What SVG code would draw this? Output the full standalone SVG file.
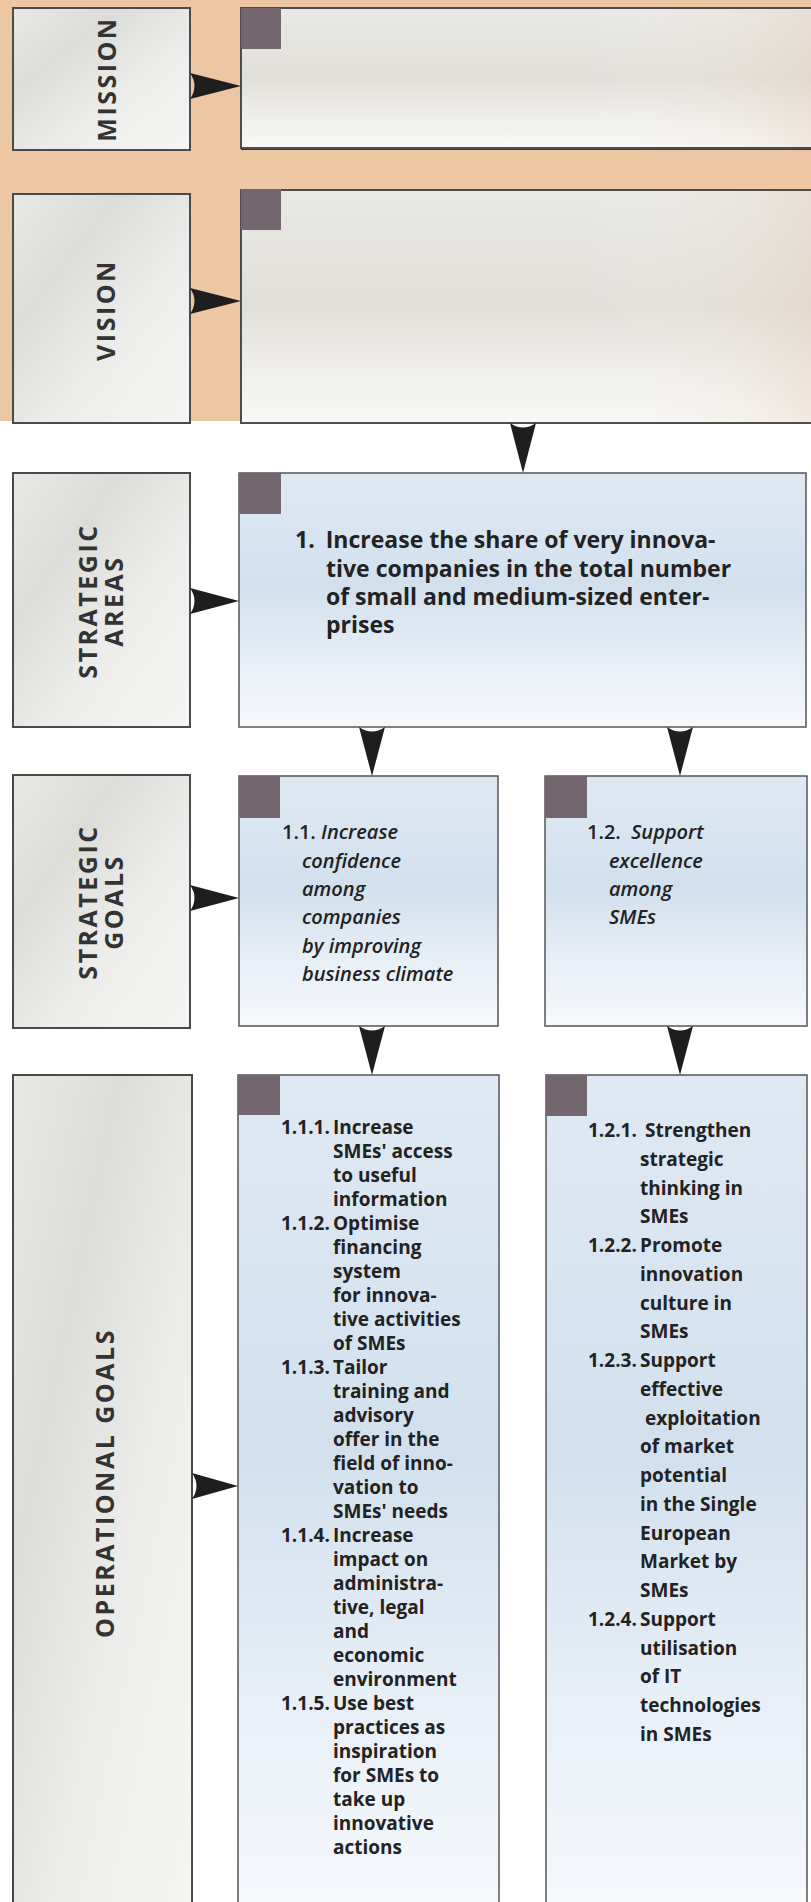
<svg xmlns="http://www.w3.org/2000/svg" width="811" height="1902" viewBox="0 0 811 1902">
<defs>
<linearGradient id="gLbl" x1="0" y1="0" x2="1" y2="1">
<stop offset="0" stop-color="#e8e8e5"/>
<stop offset="0.3" stop-color="#dcdcd9"/>
<stop offset="0.6" stop-color="#ececea"/>
<stop offset="1" stop-color="#f5f5f3"/>
</linearGradient>
<linearGradient id="gGray" x1="0" y1="0" x2="0" y2="1">
<stop offset="0" stop-color="#e9e9e5"/>
<stop offset="0.5" stop-color="#e1dfd9"/>
<stop offset="0.78" stop-color="#efeeeb"/>
<stop offset="1" stop-color="#f8f8f6"/>
</linearGradient>
<linearGradient id="gTint" x1="0" y1="0" x2="1" y2="0">
<stop offset="0" stop-color="#ffffff" stop-opacity="0"/>
<stop offset="0.6" stop-color="#ffffff" stop-opacity="0"/>
<stop offset="1" stop-color="#e6cdb8" stop-opacity="0.35"/>
</linearGradient>
<linearGradient id="gBlue" x1="0" y1="0" x2="0" y2="1">
<stop offset="0" stop-color="#dfe9f4"/>
<stop offset="0.45" stop-color="#d2e0ee"/>
<stop offset="0.75" stop-color="#e8eff7"/>
<stop offset="1" stop-color="#f6f9fc"/>
</linearGradient>
<style>
.lbl{fill:url(#gLbl);stroke:#4a4a4a;stroke-width:2}
.gray{fill:url(#gGray);stroke:#4d4d4d;stroke-width:2}
.tint{fill:url(#gTint)}
.blue{fill:url(#gBlue);stroke:#555;stroke-width:1.5}
.sq{fill:#74666f}
.lt{font-family:"Open Sans","Liberation Sans",sans-serif;font-weight:700;font-size:25px;letter-spacing:2.5px;fill:#333;text-anchor:middle}
.big{font-family:"Open Sans","Liberation Sans",sans-serif;font-weight:700;font-size:23px;fill:#222}
.it{font-family:"Open Sans","Liberation Sans",sans-serif;font-weight:600;font-size:20px;fill:#222}
.op{font-family:"Open Sans","Liberation Sans",sans-serif;font-weight:700;font-size:19px;fill:#222}
.arr{fill:#1e1e1e}
</style>
</defs>
<rect x="0" y="0" width="811" height="421" fill="#edc6a3"/>

<g id="mission-label">
<rect class="lbl" x="13" y="8" width="177" height="142"/>
<text class="lt" transform="translate(116,79) rotate(-90)">MISSION</text>
</g>
<g id="mission">
<rect class="gray" x="241" y="8" width="580" height="140"/>
<rect class="tint" x="242" y="9" width="569" height="138"/>
<line x1="241" y1="149.5" x2="811" y2="149.5" stroke="#6e2418" stroke-width="1.2"/>
<rect class="sq" x="241" y="8" width="40" height="41"/>
</g>

<g id="vision-label">
<rect class="lbl" x="13" y="194" width="177" height="229"/>
<text class="lt" transform="translate(115,310) rotate(-90)">VISION</text>
</g>
<g id="vision">
<rect class="gray" x="241" y="190" width="580" height="233"/>
<rect class="tint" x="242" y="191" width="569" height="231"/>
<rect class="sq" x="241" y="189" width="40" height="41"/>
</g>

<g id="areas-label">
<rect class="lbl" x="13" y="473" width="177" height="254"/>
<text class="lt" transform="translate(97,601) rotate(-90)">STRATEGIC</text>
<text class="lt" transform="translate(123,601) rotate(-90)">AREAS</text>
</g>
<g id="area-1">
<rect class="blue" x="239" y="473" width="567" height="254"/>
<rect class="sq" x="239" y="473" width="42" height="41"/>
<text class="big"><tspan x="295" y="548">1.</tspan><tspan dx="11">Increase the share of very innova-</tspan><tspan x="326" y="576.5">tive companies in the total number</tspan><tspan x="326" y="605">of small and medium-sized enter-</tspan><tspan x="326" y="633">prises</tspan></text>
</g>

<g id="goals-label">
<rect class="lbl" x="13" y="775" width="177" height="253"/>
<text class="lt" transform="translate(97,902) rotate(-90)">STRATEGIC</text>
<text class="lt" transform="translate(123,902) rotate(-90)">GOALS</text>
</g>
<g id="goal-1-1">
<rect class="blue" x="239" y="776" width="259" height="250"/>
<rect class="sq" x="239" y="776" width="41" height="42"/>
<text class="it"><tspan x="282" y="839">1.1.</tspan><tspan x="321" y="839" font-style="italic">Increase</tspan><tspan x="302" y="867.5" font-style="italic">confidence</tspan><tspan x="302" y="896" font-style="italic">among</tspan><tspan x="302" y="924" font-style="italic">companies</tspan><tspan x="302" y="952.5" font-style="italic">by improving</tspan><tspan x="302" y="981" font-style="italic">business climate</tspan></text>
</g>
<g id="goal-1-2">
<rect class="blue" x="545" y="776" width="262" height="250"/>
<rect class="sq" x="545" y="776" width="42" height="42"/>
<text class="it"><tspan x="587" y="839">1.2.</tspan><tspan x="631" y="839" font-style="italic">Support</tspan><tspan x="609" y="867.5" font-style="italic">excellence</tspan><tspan x="609" y="896" font-style="italic">among</tspan><tspan x="609" y="924" font-style="italic">SMEs</tspan></text>
</g>

<g id="ops-label">
<rect class="lbl" x="13" y="1075" width="179" height="840"/>
<text class="lt" transform="translate(114,1483) rotate(-90)">OPERATIONAL GOALS</text>
</g>
<g id="ops-1-1">
<rect class="blue" x="238" y="1075" width="261" height="840"/>
<rect class="sq" x="238" y="1075" width="42" height="40"/>
<text class="op">
<tspan x="281" y="1134">1.1.1.</tspan>
<tspan x="281" y="1230">1.1.2.</tspan>
<tspan x="281" y="1374">1.1.3.</tspan>
<tspan x="281" y="1542">1.1.4.</tspan>
<tspan x="281" y="1710">1.1.5.</tspan>
</text>
<text class="op">
<tspan x="333" y="1134">Increase</tspan>
<tspan x="333" y="1158">SMEs' access</tspan>
<tspan x="333" y="1182">to useful</tspan>
<tspan x="333" y="1206">information</tspan>
<tspan x="333" y="1230">Optimise</tspan>
<tspan x="333" y="1254">financing</tspan>
<tspan x="333" y="1278">system</tspan>
<tspan x="333" y="1302">for innova-</tspan>
<tspan x="333" y="1326">tive activities</tspan>
<tspan x="333" y="1350">of SMEs</tspan>
<tspan x="333" y="1374">Tailor</tspan>
<tspan x="333" y="1398">training and</tspan>
<tspan x="333" y="1422">advisory</tspan>
<tspan x="333" y="1446">offer in the</tspan>
<tspan x="333" y="1470">field of inno-</tspan>
<tspan x="333" y="1494">vation to</tspan>
<tspan x="333" y="1518">SMEs' needs</tspan>
<tspan x="333" y="1542">Increase</tspan>
<tspan x="333" y="1566">impact on</tspan>
<tspan x="333" y="1590">administra-</tspan>
<tspan x="333" y="1614">tive, legal</tspan>
<tspan x="333" y="1638">and</tspan>
<tspan x="333" y="1662">economic</tspan>
<tspan x="333" y="1686">environment</tspan>
<tspan x="333" y="1710">Use best</tspan>
<tspan x="333" y="1734">practices as</tspan>
<tspan x="333" y="1758">inspiration</tspan>
<tspan x="333" y="1782">for SMEs to</tspan>
<tspan x="333" y="1806">take up</tspan>
<tspan x="333" y="1830">innovative</tspan>
<tspan x="333" y="1854">actions</tspan>
</text>
</g>
<g id="ops-1-2">
<rect class="blue" x="546" y="1075" width="261" height="840"/>
<rect class="sq" x="546" y="1075" width="41" height="41"/>
<text class="op">
<tspan x="588" y="1137">1.2.1.</tspan>
<tspan x="588" y="1252">1.2.2.</tspan>
<tspan x="588" y="1367">1.2.3.</tspan>
<tspan x="588" y="1625.75">1.2.4.</tspan>
</text>
<text class="op">
<tspan x="645" y="1137">Strengthen</tspan>
<tspan x="640" y="1165.75">strategic</tspan>
<tspan x="640" y="1194.5">thinking in</tspan>
<tspan x="640" y="1223.25">SMEs</tspan>
<tspan x="640" y="1252">Promote</tspan>
<tspan x="640" y="1280.75">innovation</tspan>
<tspan x="640" y="1309.5">culture in</tspan>
<tspan x="640" y="1338.25">SMEs</tspan>
<tspan x="640" y="1367">Support</tspan>
<tspan x="640" y="1395.75">effective</tspan>
<tspan x="645" y="1424.5">exploitation</tspan>
<tspan x="640" y="1453.25">of market</tspan>
<tspan x="640" y="1482">potential</tspan>
<tspan x="640" y="1510.75">in the Single</tspan>
<tspan x="640" y="1539.5">European</tspan>
<tspan x="640" y="1568.25">Market by</tspan>
<tspan x="640" y="1597">SMEs</tspan>
<tspan x="640" y="1625.75">Support</tspan>
<tspan x="640" y="1654.5">utilisation</tspan>
<tspan x="640" y="1683.25">of IT</tspan>
<tspan x="640" y="1712">technologies</tspan>
<tspan x="640" y="1740.75">in SMEs</tspan>
</text>
</g>

<g id="connectors">
<path class="arr" d="M190,73 Q199,86 190,99 L241,86 Z"/>
<path class="arr" d="M190,288 Q199,301 190,314 L241,301 Z"/>
<path class="arr" d="M190,588 Q199,601 190,614 L239,601 Z"/>
<path class="arr" d="M190,885 Q199,898 190,911 L239,898 Z"/>
<path class="arr" d="M192,1473 Q201,1486 192,1499 L238,1486 Z"/>
<path class="arr" d="M510,423 Q523,432 536,423 L523,473 Z"/>
<path class="arr" d="M359,727 Q372,736 385,727 L372,776 Z"/>
<path class="arr" d="M667,727 Q680,736 693,727 L680,776 Z"/>
<path class="arr" d="M359,1026 Q372,1035 385,1026 L372,1075 Z"/>
<path class="arr" d="M667,1026 Q680,1035 693,1026 L680,1075 Z"/>
</g>
</svg>
